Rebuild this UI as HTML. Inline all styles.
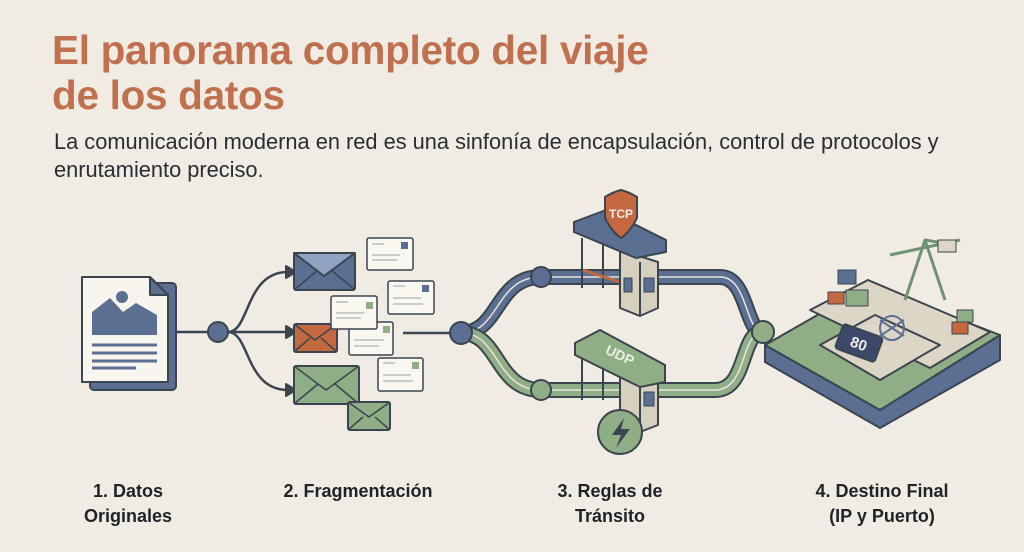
<!DOCTYPE html>
<html><head><meta charset="utf-8"><style>
html,body{margin:0;padding:0;background:#f1ece3;}
body{width:1024px;height:552px;overflow:hidden;position:relative;font-family:"Liberation Sans",sans-serif;}
h1{position:absolute;left:52px;top:28px;margin:0;font-size:40.5px;line-height:45px;color:#c0704f;font-weight:bold;letter-spacing:-0.3px;}
p{position:absolute;left:54px;top:128px;margin:0;font-size:21.8px;line-height:28px;color:#2a2d33;width:930px;}
.lab{position:absolute;font-weight:bold;font-size:18px;line-height:25px;color:#1f2328;text-align:center;width:200px;}
svg{position:absolute;left:0;top:0;}
</style></head><body>
<h1>El panorama completo del viaje<br>de los datos</h1>
<p>La comunicación moderna en red es una sinfonía de encapsulación, control de protocolos y enrutamiento preciso.</p>
<svg width="1024" height="552" viewBox="0 0 1024 552">
<g stroke="#3b4550" stroke-width="2" stroke-linejoin="round">
<!-- document -->
<rect x="90" y="283" width="86" height="107" rx="4" fill="#5a6f91"/>
<path d="M82 277 H150 L168 295 V382 H82 Z" fill="#f8f5ee"/>
<path d="M150 277 L168 295 H150 Z" fill="#5a6f91"/>
<circle cx="122" cy="297" r="6" fill="#5a6f91" stroke="none"/>
<path d="M92 335 V312 L110 298 L123 312 L136 303 L157 315 V335 Z" fill="#5a6f91" stroke="none"/>
<g stroke="#5a6f91" stroke-width="3"><line x1="92" y1="345" x2="157" y2="345"/><line x1="92" y1="353" x2="157" y2="353"/><line x1="92" y1="361" x2="157" y2="361"/><line x1="92" y1="368" x2="136" y2="368"/></g>
<!-- connectors -->
<line x1="176" y1="332" x2="210" y2="332" stroke-width="2.5"/>
<circle cx="218" cy="332" r="10" fill="#5a6f91"/>
<path d="M228 332 C250 332 245 272 288 272 M228 332 H288 M228 332 C250 332 245 390 288 390" fill="none" stroke-width="2.5"/>
<path d="M286 266 L296 272 L286 278 Z M286 326 L296 332 L286 338 Z M286 384 L296 390 L286 396 Z" fill="#3b4550"/>
<!-- envelopes -->
<rect x="294" y="253" width="61" height="37" rx="2" fill="#5a6f91"/><path d="M294 253 L324 276 L355 253 Z" fill="#90a3c2"/><path d="M294 290 L318 270 M355 290 L331 270" fill="none" stroke-width="1.5"/>
<rect x="294" y="324" width="43" height="28" rx="2" fill="#c4683f"/><path d="M294 324 L315 340 L337 324 M294 352 L310 338 M337 352 L321 338" fill="none" stroke-width="1.5"/>
<rect x="294" y="366" width="65" height="38" rx="2" fill="#8fae86"/><path d="M294 366 L326 390 L359 366 M294 404 L318 384 M359 404 L335 384" fill="none" stroke-width="1.5"/>
<rect x="348" y="402" width="42" height="28" rx="2" fill="#8fae86"/><path d="M348 402 L369 417 L390 402 M348 430 L363 417 M390 430 L375 417" fill="none" stroke-width="1.5"/>
<!-- cards -->
<g fill="#faf7f0" stroke-width="1.5">
<rect x="367" y="238" width="46" height="32" rx="2"/><rect x="388" y="281" width="46" height="33" rx="2"/><rect x="349" y="322" width="44" height="33" rx="2"/><rect x="331" y="296" width="46" height="33" rx="2"/><rect x="378" y="358" width="45" height="33" rx="2"/>
</g>
<g fill="#5a6f91" stroke="none"><rect x="401" y="242" width="7" height="7"/><rect x="422" y="285" width="7" height="7"/><rect x="366" y="302" width="7" height="7" fill="#8fae86"/><rect x="383" y="326" width="7" height="7" fill="#8fae86"/><rect x="412" y="362" width="7" height="7" fill="#8fae86"/></g>
<g stroke="#9aa0a8" stroke-width="1"><path d="M372 255h28M372 260h25M393 298h28M393 304h30M336 313h28M336 318h25M354 340h30M354 346h25M383 375h28M383 381h30M372 244h12M393 286h12M336 302h12M383 363h12"/></g>
<line x1="403" y1="333" x2="452" y2="333" stroke-width="2.5"/>
<!-- roads -->
<path d="M461 333 C500 333 495 277 541 277 H720 C748 277 745 332 763 332" fill="none" stroke="#3b4550" stroke-width="16"/>
<path d="M461 333 C500 333 495 277 541 277 H720 C748 277 745 332 763 332" fill="none" stroke="#5a6f91" stroke-width="12"/>
<path d="M461 333 C500 333 495 277 541 277 H720 C748 277 745 332 763 332" fill="none" stroke="#e8e4da" stroke-width="1.5"/>
<path d="M461 333 C500 333 495 390 541 390 H715 C748 390 740 332 763 332" fill="none" stroke="#3b4550" stroke-width="16"/>
<path d="M461 333 C500 333 495 390 541 390 H715 C748 390 740 332 763 332" fill="none" stroke="#8fae86" stroke-width="12"/>
<path d="M461 333 C500 333 495 390 541 390 H715 C748 390 740 332 763 332" fill="none" stroke="#e8e4da" stroke-width="1.5"/>
<circle cx="461" cy="333" r="11" fill="#5a6f91"/>
<circle cx="541" cy="277" r="10" fill="#5a6f91"/>
<circle cx="541" cy="390" r="10" fill="#8fae86"/>
<!-- TCP booth -->
<line x1="582" y1="238" x2="582" y2="288"/><line x1="603" y1="245" x2="603" y2="288"/>
<path d="M583 270 L620 282" stroke="#c4683f" stroke-width="3"/>
<path d="M620 250 L658 262 V308 L640 316 L620 308 Z" fill="#d8d0bf"/>
<line x1="640" y1="262" x2="640" y2="316"/>
<rect x="624" y="278" width="8" height="14" fill="#5a6f91" stroke-width="1"/><rect x="644" y="278" width="10" height="14" fill="#5a6f91" stroke-width="1"/>
<path d="M574 222 L606 210 L666 240 V252 L636 258 L574 232 Z" fill="#5a6f91"/>
<path d="M605 197 Q613 192 621 190 Q629 192 637 197 V218 Q630 232 621 238 Q612 232 605 218 Z" fill="#c4683f"/>
<!-- UDP booth -->
<line x1="582" y1="355" x2="582" y2="400"/><line x1="603" y1="360" x2="603" y2="400"/>
<path d="M620 370 L658 382 V425 L640 432 L620 425 Z" fill="#d8d0bf"/>
<line x1="640" y1="382" x2="640" y2="432"/>
<rect x="644" y="392" width="10" height="14" fill="#5a6f91" stroke-width="1"/>
<path d="M575 343 L600 330 L665 365 V382 L640 387 L575 355 Z" fill="#8fae86"/>
<circle cx="620" cy="432" r="22" fill="#8fae86"/>
<path d="M624 418 L612 435 H621 L616 448 L630 429 H621 Z" fill="#3b4550" stroke="none"/>
<!-- island -->
<path d="M765 345 L880 410 L1000 335 V360 L880 428 L765 362 Z" fill="#5a6f91"/>
<path d="M765 345 L870 285 L1000 335 L880 410 Z" fill="#8fae86"/>
<path d="M810 310 L868 280 L990 332 L930 368 Z" fill="#ddd5c5"/>
<path d="M820 345 L875 315 L940 345 L880 380 Z" fill="#ddd5c5"/>
<rect x="838" y="330" width="42" height="26" rx="3" fill="#3b4a6b" transform="rotate(20 859 343)"/>
<circle cx="892" cy="328" r="12" fill="none" stroke="#5a6f91"/>
<path d="M880 320 L904 336 M880 336 L904 320" stroke="#5a6f91"/>
<g fill="none" stroke="#6f9174" stroke-width="3"><path d="M905 300 L925 240 L945 300 M925 240 L955 245 M890 255 L960 240"/></g>
<rect x="938" y="240" width="18" height="12" fill="#ddd5c5" stroke-width="1"/>
<rect x="838" y="270" width="18" height="14" fill="#5a6f91" stroke-width="1"/><rect x="828" y="292" width="16" height="12" fill="#c4683f" stroke-width="1"/><rect x="846" y="290" width="22" height="16" fill="#8fae86" stroke-width="1"/>
<rect x="957" y="310" width="16" height="12" fill="#8fae86" stroke-width="1"/><rect x="952" y="322" width="16" height="12" fill="#c4683f" stroke-width="1"/>
</g>
<text x="859" y="349" font-family="Liberation Sans,sans-serif" font-weight="bold" font-size="15" fill="#f1ece3" text-anchor="middle" transform="rotate(20 859 343)">80</text>
<text x="621" y="218" font-family="Liberation Sans,sans-serif" font-weight="bold" font-size="12" fill="#f1ece3" text-anchor="middle">TCP</text>
<text x="620" y="360" font-family="Liberation Sans,sans-serif" font-weight="bold" font-size="14" fill="#e9efe2" text-anchor="middle" transform="rotate(25 620 355)">UDP</text>
<circle cx="763" cy="332" r="11" fill="#8fae86" stroke="#3b4550" stroke-width="2"/>
</svg>
<div class="lab" style="left:28px;top:479px;">1. Datos<br>Originales</div>
<div class="lab" style="left:258px;top:479px;">2. Fragmentación</div>
<div class="lab" style="left:510px;top:479px;">3. Reglas de<br>Tránsito</div>
<div class="lab" style="left:782px;top:479px;">4. Destino Final<br>(IP y Puerto)</div>
</body></html>
